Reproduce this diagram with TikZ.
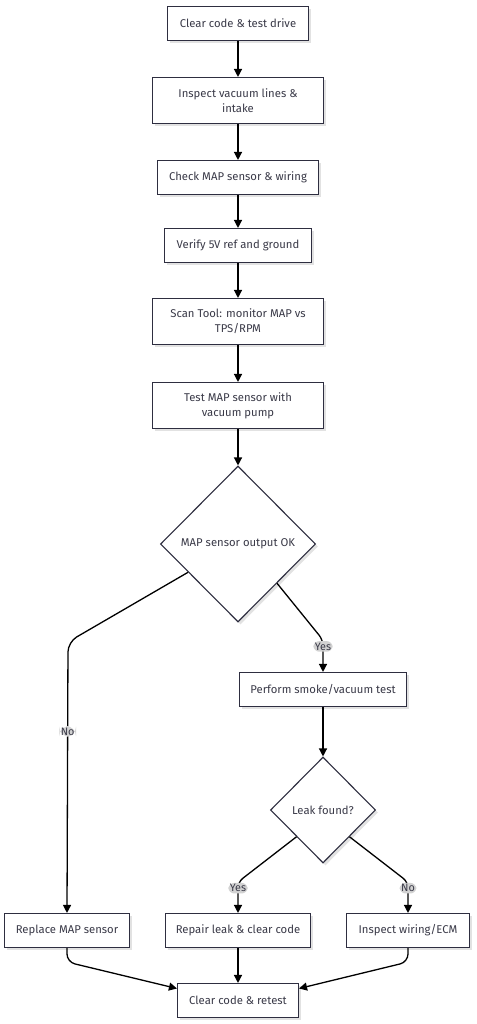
\documentclass[tikz,border=0pt]{standalone}
\usepackage{fontspec}
\setmainfont{Fira Sans}
\usetikzlibrary{arrows.meta, shapes.geometric, calc, shadows}
\definecolor{cadrenoir}{HTML}{2E2E40}
\definecolor{textegris}{HTML}{3A3A48}
\definecolor{etiquettefond}{HTML}{D2D2D2}
\definecolor{ombre}{HTML}{E2E2E2}

\begin{document}
\begin{tikzpicture}[x=1pt, y=-1pt, >={Triangle[length=8pt, width=8pt]},
  every node/.style={font=\fontsize{11.3}{15}\selectfont, text=textegris},
  boite/.style={draw=cadrenoir, line width=1.1pt, fill=white, minimum height=34pt,
    align=center, inner sep=2pt,
    drop shadow={shadow xshift=2.5pt, shadow yshift=-2.5pt, fill=ombre, opacity=1}},
  losange/.style={diamond, draw=cadrenoir, line width=1.1pt, fill=white, inner sep=0pt,
    drop shadow={shadow xshift=2.5pt, shadow yshift=-2.5pt, fill=ombre, opacity=1}},
  fleche/.style={->, line width=1.3pt, black},
  etiq/.style={fill=etiquettefond, inner sep=1.5pt, font=\fontsize{10.8}{13}\selectfont}]

  \useasboundingbox (0,0) rectangle (476,1024);

  % Etapes
  \node[boite, minimum width=141pt] (effacer) at (238,23.5) {Clear code \& test drive};
  \node[boite, minimum width=171pt, minimum height=46pt] (inspecter) at (238,100.5) {Inspect vacuum lines \&\\intake};
  \node[boite, minimum width=161pt] (capteur) at (238,177.5) {Check MAP sensor \& wiring};
  \node[boite, minimum width=147pt] (verifier) at (238,245.5) {Verify 5V ref and ground};
  \node[boite, minimum width=171pt, minimum height=46pt] (scanner) at (238,321.5) {Scan Tool: monitor MAP vs\\TPS/RPM};
  \node[boite, minimum width=171pt, minimum height=46pt] (pompe) at (238,405.5) {Test MAP sensor with\\vacuum pump};

  % Decisions
  \node[losange, minimum width=155pt, minimum height=156pt] (sortie) at (238,544) {MAP sensor output OK};
  \node[boite, minimum width=167pt] (fumee) at (323,689.5) {Perform smoke/vacuum test};
  \node[losange, minimum width=105pt, minimum height=106pt] (fuite) at (323,810) {Leak found?};

  % Fin
  \node[boite, minimum width=125pt] (remplacer) at (67,930.5) {Replace MAP sensor};
  \node[boite, minimum width=145pt] (reparer) at (238,930.5) {Repair leak \& clear code};
  \node[boite, minimum width=123pt] (cablage) at (408,930.5) {Inspect wiring/ECM};
  \node[boite, minimum width=121pt] (final) at (238,1000.5) {Clear code \& retest};

  % Fleches
  \draw[fleche] (effacer.south) -- (inspecter.north);
  \draw[fleche] (inspecter.south) -- (capteur.north);
  \draw[fleche] (capteur.south) -- (verifier.north);
  \draw[fleche] (verifier.south) -- (scanner.north);
  \draw[fleche] (scanner.south) -- (pompe.north);
  \draw[fleche] (pompe.south) -- (sortie.north);

  \draw[fleche, rounded corners=10pt] ($(sortie.west)!0.36!(sortie.south)$) -- (68,642)
    -- node[etiq, pos=0.33] {No} (remplacer.north);
  \draw[fleche, rounded corners=6pt] (sortie.south east) -- (323,640)
    -- node[etiq, pos=0.2] {Yes} (fumee.north);
  \draw[fleche] (fumee.south) -- (fuite.north);

  \draw[fleche, rounded corners=6pt] (fuite.south west) -- (238,882)
    -- node[etiq, pos=0.2] {Yes} (reparer.north);
  \draw[fleche, rounded corners=6pt] (fuite.south east) -- (408,882)
    -- node[etiq, pos=0.2] {No} (cablage.north);

  \draw[fleche, rounded corners=8pt] (remplacer.south) -- (67,962) -- ($(final.west)+(0,-12)$);
  \draw[fleche] (reparer.south) -- (final.north);
  \draw[fleche, rounded corners=8pt] (cablage.south) -- (408,962) -- ($(final.east)+(0,-12)$);

\end{tikzpicture}
\end{document}
